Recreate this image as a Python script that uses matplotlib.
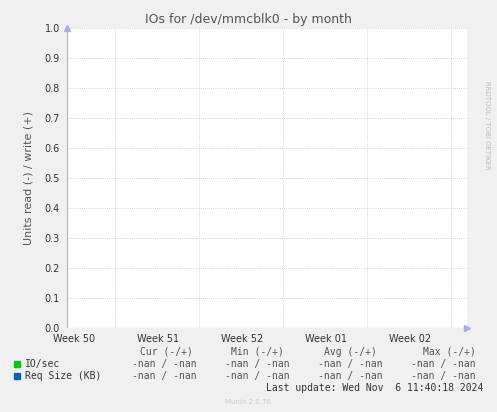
import matplotlib
matplotlib.use("Agg")
import matplotlib.pyplot as plt

title = "IOs for /dev/mmcblk0 - by month"
week_labels = ["Week 50", "Week 51", "Week 52", "Week 01", "Week 02"]
week_label_pos = [7, 91, 175, 259, 343]
week_grid_pos = [48, 132, 216, 300, 384]
y_ticks = [0.0, 0.1, 0.2, 0.3, 0.4, 0.5, 0.6, 0.7, 0.8, 0.9, 1.0]
series = ["IO/sec", "Req Size (KB)"]
series_colors = ["#00CC00", "#0066B3"]
cur = ["-nan / -nan", "-nan / -nan"]
mn = ["-nan / -nan", "-nan / -nan"]
avg = ["-nan / -nan", "-nan / -nan"]
mx = ["-nan / -nan", "-nan / -nan"]

W, H = 497, 412
fig = plt.figure(figsize=(W/100, H/100), dpi=100, facecolor="#F0F0F0")
ax = fig.add_axes([67/W, (H-328)/H, 400/W, 300/H], facecolor="white")
ax.set_xlim(0, 400)
ax.set_ylim(0, 1)
ax.set_yticks(y_ticks)
ax.set_yticklabels([f"{v:.1f}" for v in y_ticks], fontsize=7, color="#333333")
ax.set_xticks(week_label_pos)
ax.set_xticklabels(week_labels, fontsize=7, color="#333333")
ax.tick_params(axis="y", length=0, pad=5)
ax.tick_params(axis="x", length=0, pad=4)
for y in y_ticks:
    ax.axhline(y, color="#C8C8C8", lw=0.6, ls=(0, (1, 1.5)), zorder=0)
for x in week_grid_pos:
    ax.axvline(x, color="#C8C8C8", lw=0.6, ls=(0, (1, 1.5)), zorder=0)
for s in ax.spines.values():
    s.set_visible(False)
ax.axhline(0, color="#AAAAEE", lw=0.8)
ax.axvline(0, color="#AAAAEE", lw=0.8)
ax.plot([400], [0], marker=">", color="#AAAAEE", ms=4, clip_on=False)
ax.plot([0], [1], marker="^", color="#AAAAEE", ms=4, clip_on=False)
ax.set_ylabel("Units read (-) / write (+)", fontsize=8, color="#555555", labelpad=8)

fig.text(248/W, 1-19/H, title, ha="center", va="center", fontsize=9, color="#555555")
fig.text(487/W, 1-125/H, "RRDTOOL / TOBI OETIKER", rotation=270, ha="center", va="center",
         fontsize=5, color="#BBBBBB")
mono = "DejaVu Sans Mono"
fs = 7
hy = 1-352/H
headers = [(166, "Cur (-/+)"), (257, "Min (-/+)"), (350, "Avg (-/+)"), (449, "Max (-/+)")]
val_x = [164, 257, 350, 443]
for x, t in headers:
    fig.text(x/W, hy, t, ha="center", va="center", fontsize=fs, family=mono, color="#555555")
vals = [cur, mn, avg, mx]
for i, name in enumerate(series):
    yy = 1-(364+12*i)/H
    fig.patches.append(plt.Rectangle((14/W, yy-3/H), 6/W, 6/H, color=series_colors[i],
                                     transform=fig.transFigure, figure=fig))
    fig.text(25/W, yy, name, ha="left", va="center", fontsize=fs, family=mono, color="#333333")
    for x, v in zip(val_x, vals):
        fig.text(x/W, yy, v[i], ha="center", va="center", fontsize=fs, family=mono, color="#555555")
fig.text(483/W, 1-388/H, "Last update: Wed Nov  6 11:40:18 2024", ha="right", va="center",
         fontsize=fs, family=mono, color="#333333")
fig.text(248/W, 1-402/H, "Munin 2.0.76", ha="center", va="center", fontsize=5, color="#CCCCCC")
fig.savefig("out.png", dpi=100, facecolor=fig.get_facecolor())
